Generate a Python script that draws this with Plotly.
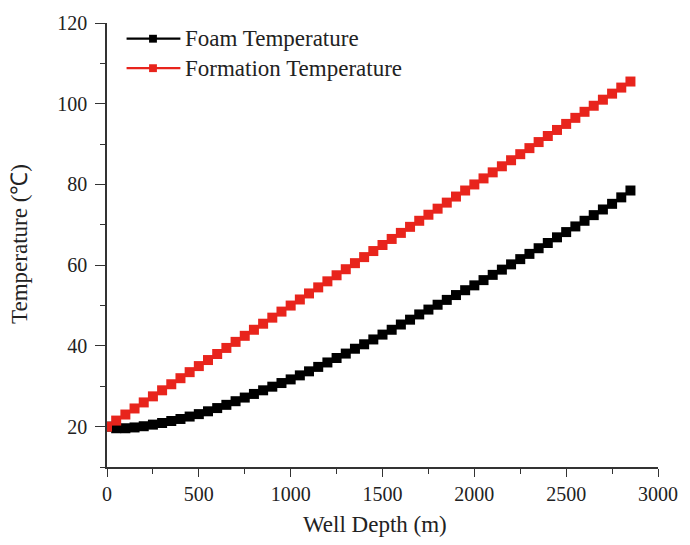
import plotly.graph_objects as go

depth_m = [0, 50, 100, 150, 200, 250, 300, 350, 400, 450,
           500, 550, 600, 650, 700, 750, 800, 850, 900, 950,
           1000, 1050, 1100, 1150, 1200, 1250, 1300, 1350, 1400, 1450,
           1500, 1550, 1600, 1650, 1700, 1750, 1800, 1850, 1900, 1950,
           2000, 2050, 2100, 2150, 2200, 2250, 2300, 2350, 2400, 2450,
           2500, 2550, 2600, 2650, 2700, 2750, 2800, 2850]

foam_temp = [20.0, 19.6, 19.6, 19.8, 20.1, 20.5, 20.9, 21.4, 21.9, 22.5,
             23.1, 23.8, 24.6, 25.4, 26.3, 27.2, 28.1, 29.0, 29.9, 30.8,
             31.7, 32.7, 33.7, 34.8, 35.9, 37.0, 38.1, 39.3, 40.4, 41.6,
             42.8, 44.0, 45.3, 46.5, 47.8, 49.0, 50.2, 51.4, 52.6, 53.8,
             55.0, 56.3, 57.6, 58.9, 60.2, 61.5, 62.8, 64.2, 65.5, 66.9,
             68.2, 69.6, 71.0, 72.4, 73.8, 75.2, 76.8, 78.5]

formation_temp = [20.0, 21.5, 23.0, 24.5, 26.0, 27.5, 29.0, 30.5, 32.0, 33.5,
                  35.0, 36.5, 38.0, 39.5, 41.0, 42.5, 44.0, 45.5, 47.0, 48.5,
                  50.0, 51.5, 53.0, 54.5, 56.0, 57.5, 59.0, 60.5, 62.0, 63.5,
                  65.0, 66.5, 68.0, 69.5, 71.0, 72.5, 74.0, 75.5, 77.0, 78.5,
                  80.0, 81.5, 83.0, 84.5, 86.0, 87.5, 89.0, 90.5, 92.0, 93.5,
                  95.0, 96.5, 98.0, 99.5, 101.0, 102.5, 104.0, 105.5]

series_names = ["Foam Temperature", "Formation Temperature"]
series_colors = ["#000000", "#e8241c"]

x_ticks = [0, 500, 1000, 1500, 2000, 2500, 3000]
y_ticks = [20, 40, 60, 80, 100, 120]

FONT = "Liberation Serif"
TXT = "#222222"
AX = "#333333"

W, H = 690, 545
ML, MR, MT, MB = 107, 20, 15, 78
PW, PH = W - ML - MR, H - MT - MB


def px_x(px):
    return (px - ML) / PW


def px_y(py):
    return (H - MB - py) / PH


fig = go.Figure()
for name, ys, col in zip(series_names, [foam_temp, formation_temp], series_colors):
    fig.add_trace(go.Scatter(
        x=depth_m, y=ys, name=name,
        mode="lines+markers",
        line=dict(color=col, width=2),
        marker=dict(symbol="square", size=10, color=col),
        showlegend=False,
    ))

axis_common = dict(
    showline=True, linecolor=AX, linewidth=1.5,
    ticks="outside", tickwidth=1.3, tickcolor=AX,
    showgrid=False, zeroline=False, mirror=False,
    tickfont=dict(family=FONT, size=20, color=TXT),
    ticklabeloverflow="allow",
)

fig.update_xaxes(
    range=[0, 3000], tickvals=x_ticks, ticklen=8,
    minor=dict(dtick=250, tick0=0, ticks="outside", ticklen=5, tickcolor=AX, tickwidth=1.2),
    **axis_common,
)
fig.update_yaxes(
    range=[10, 120], tickvals=y_ticks, ticklen=10, ticklabelstandoff=4,
    minor=dict(dtick=10, tick0=0, ticks="outside", ticklen=5, tickcolor=AX, tickwidth=1.2),
    **axis_common,
)

# axis titles
fig.add_annotation(
    text="Well Depth (m)", xref="paper", yref="paper",
    x=px_x(381), y=px_y(526), xanchor="center", yanchor="middle", showarrow=False,
    font=dict(family=FONT, size=23, color=TXT),
)
fig.add_annotation(
    text="Temperature (℃)", xref="paper", yref="paper",
    x=px_x(17), y=px_y(240), xanchor="center", yanchor="middle", showarrow=False,
    textangle=-90,
    font=dict(family=FONT, size=23, color=TXT),
)

# legend drawn manually (glyph line + square + label)
legend_rows_y = [31, 61]
for name, col, ry in zip(series_names, series_colors, legend_rows_y):
    fig.add_shape(type="line", xref="paper", yref="paper",
                  x0=px_x(127), x1=px_x(182), y0=px_y(ry), y1=px_y(ry),
                  line=dict(color=col, width=2.2))
    fig.add_shape(type="rect", xref="paper", yref="paper",
                  x0=px_x(150), x1=px_x(158), y0=px_y(ry + 4), y1=px_y(ry - 4),
                  line=dict(width=0), fillcolor=col)
    fig.add_annotation(
        text=name, xref="paper", yref="paper",
        x=px_x(185), y=px_y(ry), xanchor="left", yanchor="middle", showarrow=False,
        font=dict(family=FONT, size=23, color=TXT),
    )

fig.update_layout(
    width=W, height=H,
    margin=dict(l=ML, r=MR, t=MT, b=MB),
    paper_bgcolor="white", plot_bgcolor="white",
    showlegend=False,
)

fig.write_html("out.html")
